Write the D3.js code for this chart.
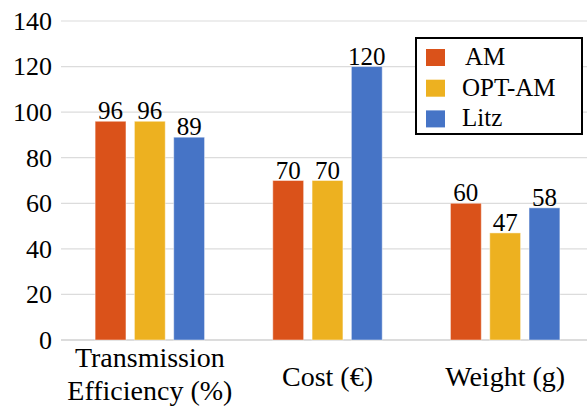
<!DOCTYPE html>
<html>
<head>
<meta charset="utf-8">
<script src="https://cdn.jsdelivr.net/npm/d3@7"></script>
<style>
  html, body { margin: 0; padding: 0; background: #fff; }
  svg { display: block; }
  text { font-family: "Liberation Serif", "Times New Roman", serif; fill: #000; }
</style>
</head>
<body>
<svg id="chart" width="587" height="407"></svg>
<script>
// Comparison of three winding technologies across three metrics
const categories = [["Transmission", "Efficiency (%)"], ["Cost (€)"], ["Weight (g)"]];
const seriesNames = ["AM", "OPT-AM", "Litz"];
const amValues = [96, 70, 60];
const optAmValues = [96, 70, 47];
const litzValues = [89, 120, 58];
const yTicks = [0, 20, 40, 60, 80, 100, 120, 140];
const colors = ["#DA521A", "#EDB120", "#4674C6"];

const seriesValues = [amValues, optAmValues, litzValues];
const catKeys = categories.map(c => c.join(" "));

const svg = d3.select("#chart");
const margin = { left: 61, right: -7, top: 21, bottom: 67 };
const W = 587, H = 407;

const x0 = d3.scaleBand()
  .domain(catKeys)
  .range([margin.left, W - margin.right])
  .paddingInner(0).paddingOuter(0);

const groupWidth = x0.bandwidth() * 0.616;
const x1 = d3.scaleBand()
  .domain(seriesNames)
  .range([(x0.bandwidth() - groupWidth) / 2, (x0.bandwidth() + groupWidth) / 2])
  .paddingInner(0.215).paddingOuter(0);

const y = d3.scaleLinear().domain([0, 140]).range([H - margin.bottom - 0, margin.top]);

// horizontal gridlines
svg.append("g")
  .selectAll("line")
  .data(yTicks)
  .join("line")
  .attr("x1", margin.left)
  .attr("x2", W)
  .attr("y1", d => y(d))
  .attr("y2", d => y(d))
  .attr("stroke", d => d === 0 ? "#d0d0d0" : "#dcdcdc")
  .attr("stroke-width", d => d === 0 ? 1.5 : 1.2);

// y axis labels
const yAxis = d3.axisLeft(y).tickValues(yTicks).tickSize(0).tickPadding(9);
const yg = svg.append("g").attr("transform", `translate(${margin.left},0)`).call(yAxis);
yg.select(".domain").remove();
yg.selectAll("text")
  .attr("font-size", 26)
  .attr("font-family", "Liberation Serif, serif")
  .attr("fill", "#000");

// bars
const groups = svg.append("g")
  .selectAll("g")
  .data(catKeys)
  .join("g")
  .attr("transform", d => `translate(${x0(d)},0)`);

const barData = (key, i) => seriesNames.map((s, j) => ({ series: s, value: seriesValues[j][i], color: colors[j] }));

groups.selectAll("rect")
  .data((d, i) => barData(d, i))
  .join("rect")
  .attr("x", d => x1(d.series))
  .attr("width", x1.bandwidth())
  .attr("y", d => y(d.value))
  .attr("height", d => y(0) - y(d.value))
  .attr("fill", d => d.color)
  .attr("stroke", "rgba(255,255,255,0.45)")
  .attr("stroke-width", 1);

// value labels
groups.selectAll("text.val")
  .data((d, i) => barData(d, i))
  .join("text")
  .attr("class", "val")
  .attr("x", d => x1(d.series) + x1.bandwidth() / 2)
  .attr("y", d => y(d.value) - 2)
  .attr("text-anchor", "middle")
  .attr("font-size", 25)
  .text(d => d.value);

// category labels
const catG = svg.append("g")
  .selectAll("text")
  .data(categories)
  .join("text")
  .attr("x", (d, i) => x0(catKeys[i]) + x0.bandwidth() / 2)
  .attr("y", d => d.length > 1 ? 367 : 386)
  .attr("text-anchor", "middle")
  .attr("font-size", 28);
catG.selectAll("tspan")
  .data(d => d)
  .join("tspan")
  .attr("x", function () { return d3.select(this.parentNode).attr("x"); })
  .attr("dy", (d, i) => i === 0 ? 0 : 33)
  .text(d => d);

// legend
const legend = svg.append("g").attr("transform", "translate(416,38)");
legend.append("rect")
  .attr("width", 166).attr("height", 96)
  .attr("fill", "#fff").attr("stroke", "#000").attr("stroke-width", 2);
const items = legend.selectAll("g.item")
  .data(seriesNames)
  .join("g")
  .attr("class", "item")
  .attr("transform", (d, i) => `translate(10,${11 + i * 30.7})`);
items.append("rect")
  .attr("width", 19).attr("height", 17)
  .attr("fill", (d, i) => colors[i]);
items.append("text")
  .attr("x", (d, i) => i === 0 ? 39 : 36)
  .attr("y", 16)
  .attr("font-size", 25)
  .text(d => d);
</script>
</body>
</html>
